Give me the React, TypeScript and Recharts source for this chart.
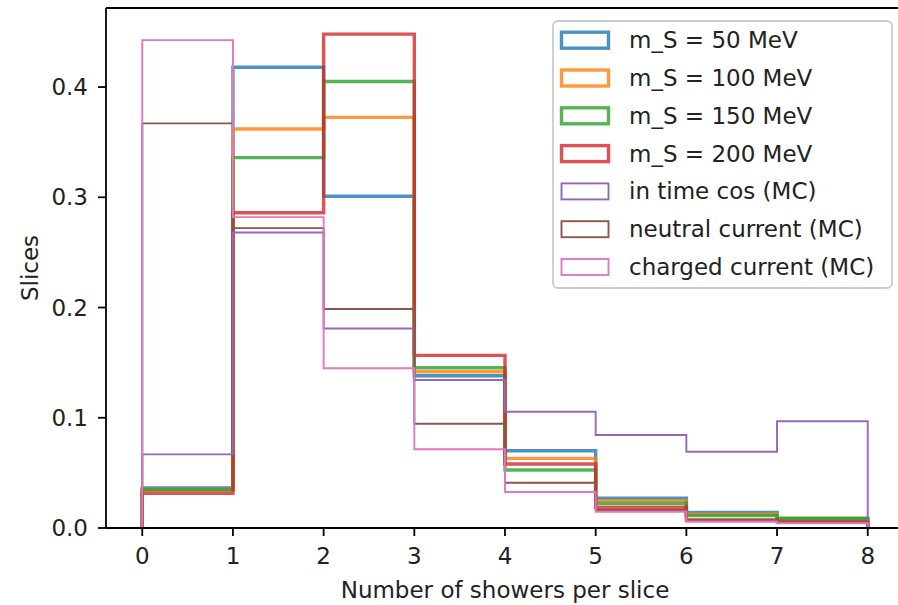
import { LineChart, Line, XAxis, YAxis, ReferenceLine } from "recharts";

// bin edges for the shower-count histogram
const BIN_EDGES = [0, 1, 2, 3, 4, 5, 6, 7, 8];
const X_TICKS = [0, 1, 2, 3, 4, 5, 6, 7, 8];
const Y_TICKS = [0, 0.1, 0.2, 0.3, 0.4];
const Y_MAX = 0.4717;

// normalised fraction of slices per bin
const MS_50 = [0.0363, 0.418, 0.301, 0.1381, 0.0701, 0.027, 0.0142, 0.0085];
const MS_100 = [0.035, 0.362, 0.3725, 0.1418, 0.0632, 0.0248, 0.0125, 0.0085];
const MS_150 = [0.0345, 0.336, 0.405, 0.1454, 0.0526, 0.0224, 0.0112, 0.0088];
const MS_200 = [0.0315, 0.286, 0.448, 0.1566, 0.058, 0.0188, 0.0073, 0.0057];
const IN_TIME_COS = [0.0668, 0.268, 0.181, 0.1342, 0.1055, 0.0844, 0.0692, 0.0968];
const NEUTRAL_CURRENT = [0.367, 0.272, 0.1986, 0.0946, 0.0411, 0.0163, 0.0075, 0.006];
const CHARGED_CURRENT = [0.4426, 0.282, 0.1449, 0.0714, 0.0327, 0.0148, 0.0057, 0.0043];

const SERIES = [
  { name: "m_S = 50 MeV", values: MS_50, color: "#1f77b4", signal: true },
  { name: "m_S = 100 MeV", values: MS_100, color: "#ff7f0e", signal: true },
  { name: "m_S = 150 MeV", values: MS_150, color: "#2ca02c", signal: true },
  { name: "m_S = 200 MeV", values: MS_200, color: "#d62728", signal: true },
  { name: "in time cos (MC)", values: IN_TIME_COS, color: "#9467bd", signal: false },
  { name: "neutral current (MC)", values: NEUTRAL_CURRENT, color: "#8c564b", signal: false },
  { name: "charged current (MC)", values: CHARGED_CURRENT, color: "#e377c2", signal: false },
];

const FONT = "'DejaVu Sans', sans-serif";
const FS = 23;

// step outline: up from zero at the first edge, across each bin, back to zero at the last edge
function outline(values: number[]) {
  const pts = [{ x: BIN_EDGES[0], y: 0 }];
  values.forEach((v, i) => pts.push({ x: BIN_EDGES[i], y: v }));
  const last = BIN_EDGES[BIN_EDGES.length - 1];
  pts.push({ x: last, y: values[values.length - 1] });
  pts.push({ x: last, y: 0 });
  return pts;
}

function YLabel() {
  return (
    <text
      x={38}
      y={268}
      transform="rotate(-90 38 268)"
      textAnchor="middle"
      fontFamily={FONT}
      fontSize={FS}
      fill="#222"
    >
      Slices
    </text>
  );
}

function HistLegend() {
  const rowGap = 37.8;
  return (
    <svg width={898} height={605} style={{ position: "absolute", left: 0, top: 0, pointerEvents: "none" }}>
      <rect x={553} y={21} width={339} height={267} rx={5} fill="#fff" fillOpacity={0.8} stroke="#cccccc" strokeWidth={1.8} />
      {SERIES.map((s, i) => {
        const cy = 40.2 + i * rowGap;
        const lw = s.signal ? 3.4 : 1.9;
        return (
          <g key={s.name}>
            <rect
              x={561.5}
              y={cy - 8}
              width={47}
              height={16}
              fill="none"
              stroke={s.color}
              strokeOpacity={s.signal ? 0.8 : 1}
              strokeWidth={lw}
            />
            <text x={629} y={cy} dominantBaseline="central" fontFamily={FONT} fontSize={FS} fill="#222">
              {s.name}
            </text>
          </g>
        );
      })}
    </svg>
  );
}

export default function App() {
  return (
    <div style={{ position: "fixed", left: 0, top: 0, width: 898, height: 605, overflow: "hidden", background: "#fff" }}>
      <LineChart width={910} height={605} margin={{ top: 8, right: 6, bottom: 0, left: 0 }}>
        <XAxis
          dataKey="x"
          type="number"
          domain={[-0.4, 8.4]}
          ticks={X_TICKS}
          height={77}
          allowDataOverflow
          axisLine={{ stroke: "#000", strokeWidth: 1.8 }}
          tickLine={{ stroke: "#000", strokeWidth: 1.8 }}
          tickSize={8}
          tickMargin={12}
          tick={{ fontFamily: FONT, fontSize: FS, fill: "#222" }}
          label={{
            value: "Number of showers per slice",
            position: "insideBottom",
            offset: 7,
            style: { fontFamily: FONT, fontSize: FS, fill: "#222" },
          }}
        />
        <YAxis
          type="number"
          domain={[0, Y_MAX]}
          ticks={Y_TICKS}
          width={106}
          allowDataOverflow
          axisLine={{ stroke: "#000", strokeWidth: 1.8 }}
          tickLine={{ stroke: "#000", strokeWidth: 1.8 }}
          tickSize={8}
          tickMargin={10}
          tickFormatter={(v: number) => v.toFixed(1)}
          tick={{ fontFamily: FONT, fontSize: FS, fill: "#222" }}
          label={<YLabel />}
        />
        <ReferenceLine y={Y_MAX} stroke="#000" strokeWidth={1.8} ifOverflow="visible" />
        <ReferenceLine x={8.4} stroke="#000" strokeWidth={1.8} ifOverflow="visible" />
        {SERIES.map((s) => (
          <Line
            key={s.name}
            data={outline(s.values)}
            dataKey="y"
            name={s.name}
            type="stepAfter"
            stroke={s.color}
            strokeOpacity={s.signal ? 0.8 : 1}
            strokeWidth={s.signal ? 3.4 : 1.9}
            strokeLinejoin="miter"
            dot={false}
            activeDot={false}
            isAnimationActive={false}
          />
        ))}
      </LineChart>
      <HistLegend />
    </div>
  );
}
